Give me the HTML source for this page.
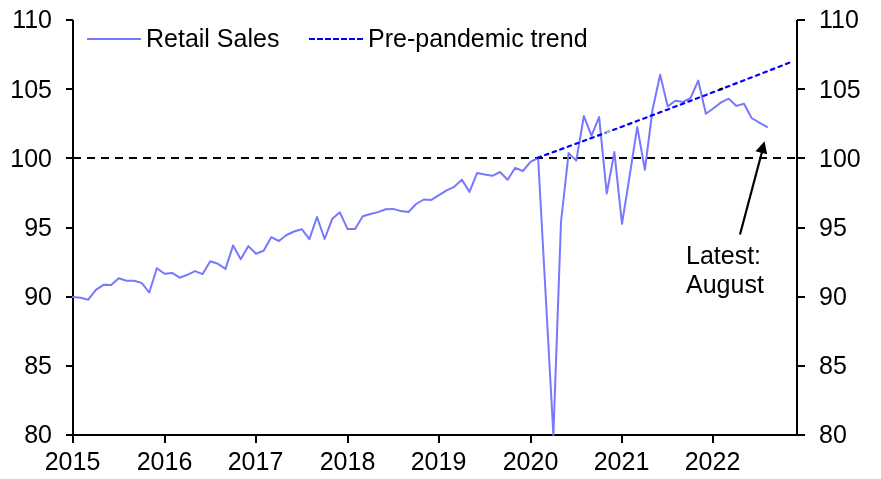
<!DOCTYPE html>
<html><head><meta charset="utf-8"><style>
html,body{margin:0;padding:0;background:#fff;width:881px;height:479px;overflow:hidden}
svg{display:block;will-change:transform}
</style></head><body>

<svg width="881" height="479" viewBox="0 0 881 479">
<line x1="73" y1="158" x2="796" y2="158" stroke="#000" stroke-width="2" stroke-dasharray="8 6"/>
<g stroke="#000" stroke-width="2" fill="none" shape-rendering="crispEdges">
<line x1="73" y1="20" x2="73" y2="443"/>
<line x1="797" y1="20" x2="797" y2="436"/>
<line x1="66" y1="435" x2="805" y2="435"/>
<line x1="66" y1="20" x2="73" y2="20"/>
<line x1="797" y1="20" x2="805" y2="20"/>
<line x1="66" y1="89" x2="73" y2="89"/>
<line x1="797" y1="89" x2="805" y2="89"/>
<line x1="66" y1="158" x2="73" y2="158"/>
<line x1="797" y1="158" x2="805" y2="158"/>
<line x1="66" y1="228" x2="73" y2="228"/>
<line x1="797" y1="228" x2="805" y2="228"/>
<line x1="66" y1="297" x2="73" y2="297"/>
<line x1="797" y1="297" x2="805" y2="297"/>
<line x1="66" y1="366" x2="73" y2="366"/>
<line x1="797" y1="366" x2="805" y2="366"/>
<line x1="66" y1="435" x2="73" y2="435"/>
<line x1="797" y1="435" x2="805" y2="435"/>
<line x1="73" y1="435" x2="73" y2="443"/>
<line x1="165" y1="435" x2="165" y2="443"/>
<line x1="256" y1="435" x2="256" y2="443"/>
<line x1="348" y1="435" x2="348" y2="443"/>
<line x1="439" y1="435" x2="439" y2="443"/>
<line x1="531" y1="435" x2="531" y2="443"/>
<line x1="622" y1="435" x2="622" y2="443"/>
<line x1="713" y1="435" x2="713" y2="443"/>
</g>
<svg x="0" y="0" width="881" height="479"><clipPath id="c"><rect x="72" y="18" width="726" height="419"/></clipPath>
<polyline clip-path="url(#c)" points="73.00,297.0 80.62,297.8 88.25,299.7 95.88,289.9 103.50,284.8 111.12,285.0 118.75,278.2 126.38,280.8 134.00,280.8 141.62,282.9 149.25,292.5 156.88,268.2 164.50,273.8 172.12,272.9 179.75,277.7 187.38,274.8 195.00,271.1 202.62,274.1 210.25,261.3 217.88,263.8 225.50,268.9 233.12,245.4 240.75,259.3 248.38,246.1 256.00,253.7 263.62,250.8 271.25,237.2 278.88,241.0 286.50,235.0 294.12,231.5 301.75,229.2 309.38,239.1 317.00,217.0 324.62,239.0 332.25,218.8 339.88,212.3 347.50,228.9 355.12,228.9 362.75,216.2 370.38,214.0 378.00,212.1 385.62,209.2 393.25,208.9 400.88,211.1 408.50,212.0 416.12,204.0 423.75,199.5 431.38,199.9 439.00,195.1 446.62,190.4 454.25,186.8 461.88,179.7 469.50,191.9 477.12,172.9 484.75,174.6 492.38,175.8 500.00,172.0 507.62,179.8 515.25,167.8 522.88,171.0 530.50,161.9 538.12,158.0 545.75,296.5 553.38,435.0 561.00,222.0 568.62,153.1 576.25,160.6 583.88,116.1 591.50,135.7 599.12,117.1 606.75,193.5 614.38,152.1 622.00,223.8 629.62,176.0 637.25,126.9 644.88,169.8 652.50,110.0 660.12,74.8 667.75,106.4 675.38,100.8 683.00,101.9 690.62,97.8 698.25,80.6 705.88,113.8 713.50,108.2 721.12,102.4 728.75,98.7 736.38,105.9 744.00,103.7 751.62,118.0 759.25,122.7 766.88,126.9" fill="none" stroke="#7878ff" stroke-width="2" stroke-linejoin="round" stroke-linecap="round"/></svg>
<polyline points="537.54,157.85 543.83,155.55 550.13,153.24 556.42,150.94 562.71,148.62 569.01,146.31 575.30,143.99 581.59,141.66 587.89,139.33 594.18,137.00 600.47,134.67 606.77,132.33 613.06,129.98 619.35,127.64 625.65,125.29 631.94,122.93 638.23,120.57 644.53,118.21 650.82,115.84 657.11,113.47 663.40,111.09 669.70,108.72 675.99,106.33 682.28,103.95 688.58,101.55 694.87,99.16 701.16,96.76 707.46,94.36 713.75,91.95 720.04,89.54 726.34,87.12 732.63,84.70 738.92,82.28 745.22,79.85 751.51,77.42 757.80,74.99 764.10,72.55 770.39,70.10 776.68,67.66 782.98,65.21 789.27,62.75" fill="none" stroke="#0000ff" stroke-width="2.2" stroke-linecap="round" stroke-dasharray="3.5 4.548"/>
<line x1="606.3" y1="132.50" x2="609.3" y2="131.38" stroke="#b0b0b0" stroke-width="2.2" stroke-linecap="round"/>
<line x1="719.6" y1="89.71" x2="722.2" y2="88.71" stroke="#000" stroke-width="2.2" stroke-linecap="round"/>
<g font-family='"Liberation Sans", sans-serif' font-size="25" fill="#000">
<text x="52" y="27.8" text-anchor="end">110</text>
<text x="819" y="27.8">110</text>
<text x="52" y="97.6" text-anchor="end">105</text>
<text x="819" y="97.6">105</text>
<text x="52" y="166.9" text-anchor="end">100</text>
<text x="819" y="166.9">100</text>
<text x="52" y="235.8" text-anchor="end">95</text>
<text x="819" y="235.8">95</text>
<text x="52" y="304.7" text-anchor="end">90</text>
<text x="819" y="304.7">90</text>
<text x="52" y="373.6" text-anchor="end">85</text>
<text x="819" y="373.6">85</text>
<text x="52" y="442.5" text-anchor="end">80</text>
<text x="819" y="442.5">80</text>
<text x="72.5" y="470" text-anchor="middle">2015</text>
<text x="164.5" y="470" text-anchor="middle">2016</text>
<text x="255.5" y="470" text-anchor="middle">2017</text>
<text x="347.5" y="470" text-anchor="middle">2018</text>
<text x="438.5" y="470" text-anchor="middle">2019</text>
<text x="530.5" y="470" text-anchor="middle">2020</text>
<text x="621.5" y="470" text-anchor="middle">2021</text>
<text x="712.5" y="470" text-anchor="middle">2022</text>
<text x="146" y="47">Retail Sales</text>
<text x="368" y="47">Pre-pandemic trend</text>
<text x="686" y="264">Latest:</text>
<text x="686" y="293">August</text>
</g>
<line x1="87" y1="39" x2="141" y2="39" stroke="#7878ff" stroke-width="2"/>
<line x1="309" y1="39" x2="363" y2="39" stroke="#0000ff" stroke-width="2" stroke-dasharray="6 2"/>
<line x1="740" y1="234.5" x2="763.3" y2="147" stroke="#000" stroke-width="2.2"/>
<polygon points="764.6,141.3 755.5,151.3 767.1,154.2" fill="#000"/>
</svg>
</body></html>
